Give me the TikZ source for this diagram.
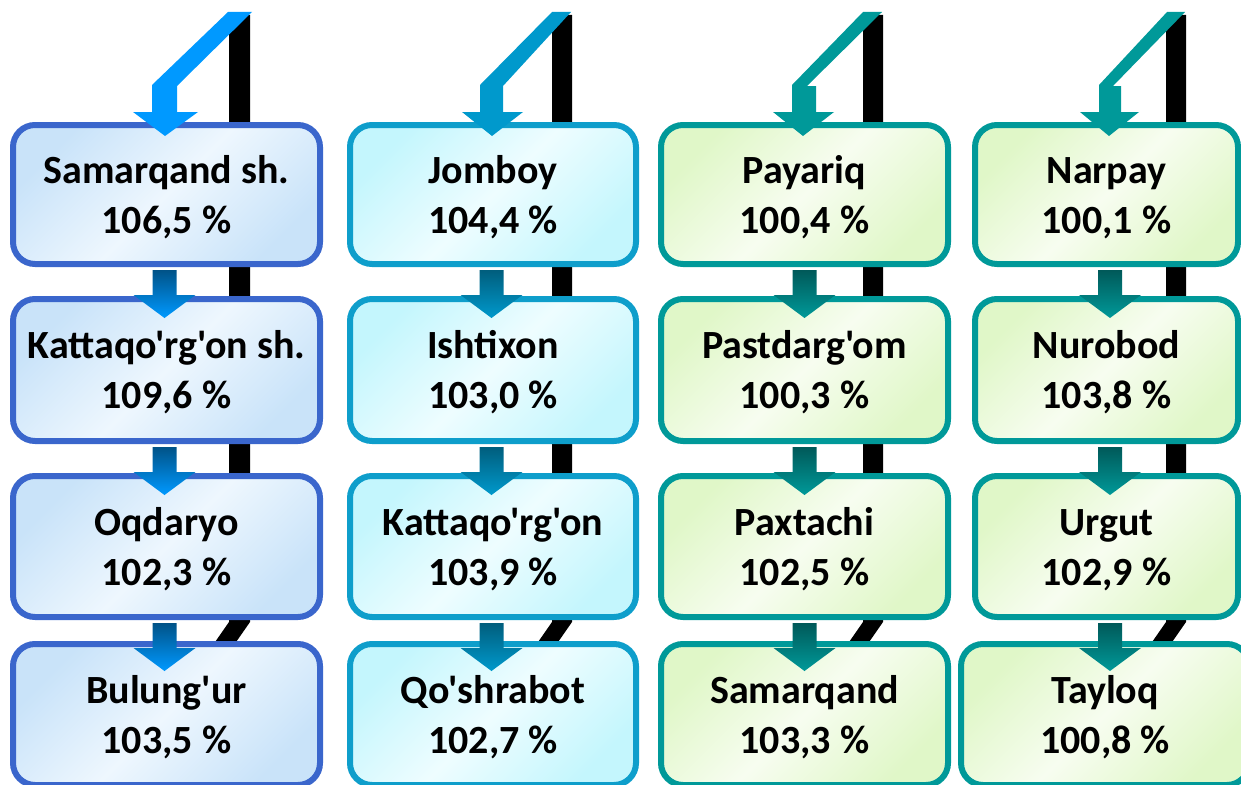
\documentclass[tikz,border=0pt]{standalone}
\usepackage{fontspec}
\newfontfamily\boxfont{Carlito}[Ligatures=TeXOff]
\usetikzlibrary{calc}
\definecolor{bA}{HTML}{3A66CC}
\definecolor{fA}{HTML}{C9E3F9}
\definecolor{mA}{HTML}{EEF7FE}
\definecolor{bB}{HTML}{0E9ECB}
\definecolor{fB}{HTML}{C4F6FD}
\definecolor{mB}{HTML}{EEFDFF}
\definecolor{bC}{HTML}{009999}
\definecolor{fC}{HTML}{E0F7C8}
\definecolor{mC}{HTML}{F7FDF0}
\definecolor{aA}{HTML}{0099FF}
\definecolor{aB}{HTML}{0099CC}
\definecolor{aC}{HTML}{009999}
\definecolor{dA}{HTML}{004E80}
\definecolor{dB}{HTML}{005A78}
\definecolor{dC}{HTML}{005555}
\newcommand\bx[2]{\rule{0pt}{37pt}#1\\#2\rule[-10pt]{0pt}{10pt}}
\newcommand\midarr[4]{\shade[top color=#3,bottom color=#4] ([xshift=#2pt]#1.south) ++(-12,3) -- ++(24,0) -- ++(0,25) -- ++(19,0) -- ++(-31,23) -- ++(-31,-23) -- ++(19,0) -- cycle;}
\newcommand\toparr[9]{\fill[#9] (#1,12) -- (#2,12) -- (#3,86) -- (#5,86) -- (#5,112) -- (#7,112) -- (#8,136) -- (#6,112) -- (#4,112) -- (#4,85) -- cycle;}
\newcommand\blackbar[2]{\fill[black] (#1,15) -- (#2,15) -- (#2,622) -- (#2-16,645) -- (#1-16,645) -- (#1,622) -- cycle;}
\begin{document}
\begin{tikzpicture}[x=1pt,y=-1pt,
  basebox/.style={draw, rounded corners=22pt, line width=6pt, align=center, inner sep=0pt,
    font=\boxfont\bfseries\fontsize{40}{50}\selectfont},
  boxA/.style={basebox, draw=bA, top color=fA, bottom color=fA, middle color=mA, shading angle=45},
  boxB/.style={basebox, draw=bB, top color=fB, bottom color=fB, middle color=mB, shading angle=45},
  boxC/.style={basebox, draw=bC, top color=fC, bottom color=fC, middle color=mC, shading angle=45},
  wA/.style={minimum width=307pt}, wB/.style={minimum width=286pt},
  wC/.style={minimum width=287pt}, wD/.style={minimum width=263pt},
  hh/.style={minimum height=#1pt}]
\useasboundingbox (0,0) rectangle (1241,784);
\clip (0,0) rectangle (1241,784);
% black bars behind
\blackbar{229}{250}
\blackbar{552}{572}
\blackbar{863}{883}
\blackbar{1166}{1186}
% column 1
\node[boxA, wA, hh=139] (a1) at (166.5,194.5) {\bx{Samarqand sh.}{106,5 \%}};
\node[boxA, wA, hh=142] (a2) at (166.5,370) {\bx{Kattaqo'rg'on sh.}{109,6 \%}};
\node[boxA, wA, hh=141] (a3) at (166.5,546.5) {\bx{Oqdaryo}{102,3 \%}};
\node[boxA, wA, hh=141] (a4) at (166.5,714.5) {\bx{Bulung'ur}{103,5 \%}};
% column 2
\node[boxB, wB, hh=139] (b1) at (493,194.5) {\bx{Jomboy}{104,4 \%}};
\node[boxB, wB, hh=142] (b2) at (493,370) {\bx{Ishtixon}{103,0 \%}};
\node[boxB, wB, hh=141] (b3) at (493,546.5) {\bx{Kattaqo'rg'on}{103,9 \%}};
\node[boxB, wB, hh=141] (b4) at (493,714.5) {\bx{Qo'shrabot}{102,7 \%}};
% column 3
\node[boxC, wC, hh=139] (c1) at (804.5,194.5) {\bx{Payariq}{100,4 \%}};
\node[boxC, wC, hh=142] (c2) at (804.5,370) {\bx{Pastdarg'om}{100,3 \%}};
\node[boxC, wC, hh=141] (c3) at (804.5,546.5) {\bx{Paxtachi}{102,5 \%}};
\node[boxC, wC, hh=141] (c4) at (804.5,714.5) {\bx{Samarqand}{103,3 \%}};
% column 4
\node[boxC, wD, hh=139] (d1) at (1106.5,194.5) {\bx{Narpay}{100,1 \%}};
\node[boxC, wD, hh=142] (d2) at (1106.5,370) {\bx{Nurobod}{103,8 \%}};
\node[boxC, wD, hh=141] (d3) at (1106.5,546.5) {\bx{Urgut}{102,9 \%}};
\node[boxC, minimum width=288pt, hh=141] (d4) at (1105,714.5) {\bx{Tayloq}{100,8 \%}};
% top bent arrows
\toparr{228}{252}{177}{152}{177}{133}{198}{165}{aA}
\toparr{552}{571}{503}{480}{503}{462}{523}{492}{aB}
\toparr{863}{882}{807}{792}{816}{773}{834}{803}{aC}
\toparr{1167}{1185}{1113}{1099}{1121}{1080}{1139}{1109}{aC}
% arrows between boxes
\midarr{a1}{-2}{dA}{aA}
\midarr{a2}{-2}{dA}{aA}
\midarr{a3}{-2}{dA}{aA}
\midarr{b1}{-1.5}{dB}{aB}
\midarr{b2}{-1.5}{dB}{aB}
\midarr{b3}{-1.5}{dB}{aB}
\midarr{c1}{0}{dC}{aC}
\midarr{c2}{0}{dC}{aC}
\midarr{c3}{0}{dC}{aC}
\midarr{d1}{3.5}{dC}{aC}
\midarr{d2}{3.5}{dC}{aC}
\midarr{d3}{3.5}{dC}{aC}
\end{tikzpicture}
\end{document}
